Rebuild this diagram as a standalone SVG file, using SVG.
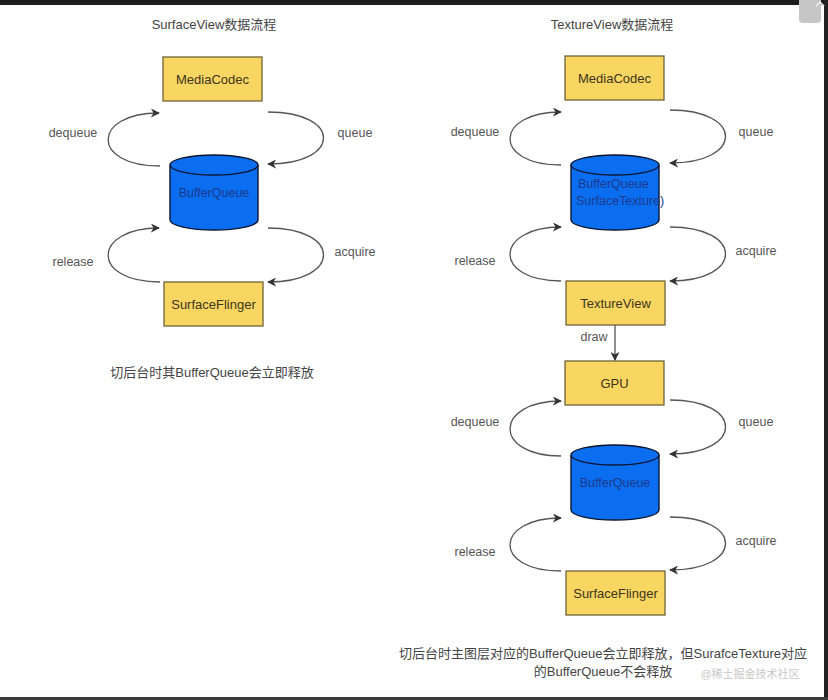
<svg xmlns="http://www.w3.org/2000/svg" width="828" height="700" viewBox="0 0 828 700">
<defs>
<marker id="ah" viewBox="0 0 10 10" refX="9" refY="5" markerWidth="9" markerHeight="9" markerUnits="userSpaceOnUse" orient="auto">
<path d="M0,0 L10,5 L0,10 L3,5 Z" fill="#333"/>
</marker>
<style>
text{font-family:"Liberation Sans",Arial,"Noto Sans CJK SC",sans-serif;}
.title{font-size:13px;fill:#444;text-anchor:middle;}
.lbl{font-size:12.5px;fill:#555;text-anchor:middle;}
.box rect{fill:#f9d661;stroke:#6f6338;stroke-width:1.3;}
.box text{font-size:13px;fill:#3d3520;text-anchor:middle;}
.cyl path,.cyl ellipse{fill:#0b6ef0;stroke:#0a1530;stroke-width:1.4;}
.cyl text{font-size:12.5px;fill:#1c3a8e;}
.conn path{fill:none;stroke:#555;stroke-width:1.3;marker-end:url(#ah);}
.cap{font-size:13px;fill:#444;text-anchor:middle;}
</style>
</defs>
<rect x="0" y="0" width="828" height="700" fill="#fff"/>

<text class="title" x="214" y="29">SurfaceView数据流程</text>
<text class="title" x="612" y="29">TextureView数据流程</text>

<!-- left diagram -->
<g id="l-mediacodec" class="box"><rect x="163" y="57" width="99" height="44"/><text x="212.5" y="83.5">MediaCodec</text></g>
<g id="l-bufferqueue" class="cyl">
<path d="M170,165 L170,220 A44,10 0 0 0 258,220 L258,165"/>
<ellipse cx="214" cy="165" rx="44" ry="10"/>
<text x="214" y="197" text-anchor="middle">BufferQueue</text>
</g>
<g id="l-surfaceflinger" class="box"><rect x="164" y="282" width="99" height="44"/><text x="213.5" y="308.5">SurfaceFlinger</text></g>

<!-- right diagram -->
<g id="r-mediacodec" class="box"><rect x="565" y="56" width="99" height="44"/><text x="614.5" y="82.5">MediaCodec</text></g>
<g id="r-bufferqueue1" class="cyl">
<path d="M571,165 L571,220 A44,10 0 0 0 659,220 L659,165"/>
<ellipse cx="615" cy="165" rx="44" ry="10"/>
<text x="578" y="188">BufferQueue</text>
<text x="576" y="205">SurfaceTexture)</text>
</g>
<g id="r-textureview" class="box"><rect x="566" y="281" width="99" height="44"/><text x="615.5" y="307.5">TextureView</text></g>
<g id="r-gpu" class="box"><rect x="565" y="361" width="99" height="44"/><text x="614.5" y="387.5">GPU</text></g>
<g id="r-bufferqueue2" class="cyl">
<path d="M571,455 L571,510 A44,10 0 0 0 659,510 L659,455"/>
<ellipse cx="615" cy="455" rx="44" ry="10"/>
<text x="615" y="487" text-anchor="middle">BufferQueue</text>
</g>
<g id="r-surfaceflinger" class="box"><rect x="566" y="571" width="99" height="44"/><text x="615.5" y="597.5">SurfaceFlinger</text></g>

<g id="connectors" class="conn">
<!-- left -->
<path d="M160,166 C90,166 92,113 159,113"/>
<path d="M268,112 C342,112 342,164 268,164"/>
<path d="M160,282 C90,282 92,228 159,228"/>
<path d="M268,228 C342,228 342,282 268,282"/>
<!-- right upper -->
<path d="M561,165 C492,165 494,112 561,112"/>
<path d="M670,110 C744,110 744,163 670,163"/>
<path d="M561,281 C492,281 494,227 561,227"/>
<path d="M670,227 C744,227 744,281 670,281"/>
<path d="M615,325 L615,360"/>
<!-- right lower -->
<path d="M561,456 C492,456 494,401 561,401"/>
<path d="M670,400 C744,400 744,454 670,454"/>
<path d="M561,571 C492,571 494,518 561,518"/>
<path d="M670,517 C744,517 744,570 670,570"/>
</g>

<g id="labels">
<text class="lbl" x="73" y="137">dequeue</text>
<text class="lbl" x="355" y="137">queue</text>
<text class="lbl" x="73" y="266">release</text>
<text class="lbl" x="355" y="256">acquire</text>
<text class="lbl" x="475" y="136">dequeue</text>
<text class="lbl" x="756" y="136">queue</text>
<text class="lbl" x="475" y="265">release</text>
<text class="lbl" x="756" y="255">acquire</text>
<text class="lbl" x="594" y="341">draw</text>
<text class="lbl" x="475" y="426">dequeue</text>
<text class="lbl" x="756" y="426">queue</text>
<text class="lbl" x="475" y="556">release</text>
<text class="lbl" x="756" y="545">acquire</text>
</g>

<text class="cap" x="212" y="377">切后台时其BufferQueue会立即释放</text>
<text class="cap" x="603" y="658">切后台时主图层对应的BufferQueue会立即释放，但SurafceTexture对应</text>
<text class="cap" x="603" y="676">的BufferQueue不会释放</text>
<text x="750" y="678" font-size="11" fill="#c8c8c8" text-anchor="middle">@稀土掘金技术社区</text>

<!-- screenshot frame -->
<rect x="0" y="0" width="828" height="5" fill="#1c1c1c"/>
<rect x="824" y="0" width="4" height="700" fill="#222"/>
<rect x="0" y="697" width="828" height="3" fill="#3a3a3a"/>
<rect x="799" y="-6" width="22" height="29" rx="4" fill="#c6c6c6"/>
<polyline points="816,6 820,2 824,6" fill="none" stroke="#eee" stroke-width="1.5"/>
</svg>
